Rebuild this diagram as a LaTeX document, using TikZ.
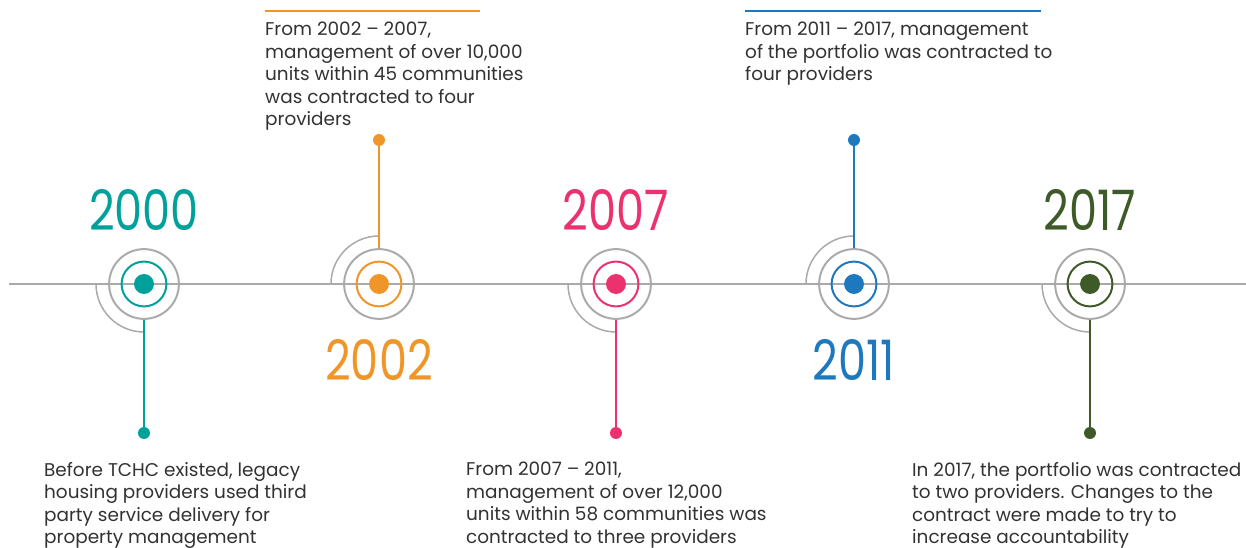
\documentclass[tikz,border=0pt]{standalone}
\usepackage{fontspec}
\setmainfont{Poppins}
\usetikzlibrary{positioning}
\definecolor{cteal}{RGB}{0,160,155}
\definecolor{corange}{RGB}{240,150,40}
\definecolor{cpink}{RGB}{236,50,110}
\definecolor{cblue}{RGB}{30,120,190}
\definecolor{cgreen}{RGB}{62,90,40}
\definecolor{lgray}{RGB}{170,170,170}
\definecolor{ctext}{RGB}{50,50,50}
\newcommand{\yeartext}[1]{\scalebox{0.8}[1]{#1}}
\tikzset{dot/.style = {fill, circle, inner sep = 0, minimum size = 20}}
\tikzset{ring/.style = {draw, circle, line width = 2, inner sep = 0, minimum size = 45}}
\tikzset{halo/.style = {draw = lgray, circle, line width = 2, inner sep = 0, minimum size = 70}}
\tikzset{pin/.style = {fill, circle, inner sep = 0, minimum size = 12}}
\tikzset{stem/.style = {line width = 1.5}}
\tikzset{year/.style = {font = \fontsize{56}{56}\selectfont, inner sep = 0}}
\tikzset{note/.style = {font = \fontsize{18.5}{22.5}\selectfont, text = ctext, align = left, inner sep = 0, anchor = north west}}

\begin{document}
\begin{tikzpicture}[x = 1bp, y = -1bp]
    \useasboundingbox (0, 0) rectangle (1246, 548);
    \draw [lgray, line width = 1.5] (9, 284) -- (1246, 284);

    % 2000
    \node [halo] (o2000) at (144, 284) {};
    \node [ring, draw = cteal] (r2000) at (144, 284) {};
    \node [dot, fill = cteal] (c2000) at (144, 284) {};
    \draw [lgray, line width = 1.5] (96, 284) arc (180:90:48);
    \node [pin, fill = cteal] (e2000) at (144, 433) {};
    \draw [stem, cteal] (o2000) -- (e2000);
    \node [year, text = cteal] (y2000) at (144, 210) {\yeartext{2000}};
    \node [note] (t2000) at (44, 462) {Before TCHC existed, legacy\\housing providers used third\\party service delivery for\\property management};

    % 2002
    \node [halo] (o2002) at (379, 284) {};
    \node [ring, draw = corange] (r2002) at (379, 284) {};
    \node [dot, fill = corange] (c2002) at (379, 284) {};
    \draw [lgray, line width = 1.5] (331, 284) arc (180:270:48);
    \node [pin, fill = corange] (e2002) at (379, 140) {};
    \draw [stem, corange] (o2002) -- (e2002);
    \node [year, text = corange] (y2002) at (379, 360) {\yeartext{2002}};
    \draw [corange, line width = 1.5] (265, 11) -- (480, 11);
    \node [note] (t2002) at (265, 22) {From 2002 -- 2007,\\management of over 10,000\\units within 45 communities\\was contracted to four\\providers};

    % 2007
    \node [halo] (o2007) at (616, 284) {};
    \node [ring, draw = cpink] (r2007) at (616, 284) {};
    \node [dot, fill = cpink] (c2007) at (616, 284) {};
    \draw [lgray, line width = 1.5] (568, 284) arc (180:90:48);
    \node [pin, fill = cpink] (e2007) at (616, 433) {};
    \draw [stem, cpink] (o2007) -- (e2007);
    \node [year, text = cpink] (y2007) at (616, 210) {\yeartext{2007}};
    \node [note] (t2007) at (466, 462) {From 2007 -- 2011,\\management of over 12,000\\units within 58 communities was\\contracted to three providers};

    % 2011
    \node [halo] (o2011) at (854, 284) {};
    \node [ring, draw = cblue] (r2011) at (854, 284) {};
    \node [dot, fill = cblue] (c2011) at (854, 284) {};
    \draw [lgray, line width = 1.5] (806, 284) arc (180:270:48);
    \node [pin, fill = cblue] (e2011) at (854, 140) {};
    \draw [stem, cblue] (o2011) -- (e2011);
    \node [year, text = cblue] (y2011) at (854, 360) {\yeartext{2011}};
    \draw [cblue, line width = 1.5] (745, 11) -- (1041, 11);
    \node [note] (t2011) at (745, 22) {From 2011 -- 2017, management\\of the portfolio was contracted to\\four providers};

    % 2017
    \node [halo] (o2017) at (1090, 284) {};
    \node [ring, draw = cgreen] (r2017) at (1090, 284) {};
    \node [dot, fill = cgreen] (c2017) at (1090, 284) {};
    \draw [lgray, line width = 1.5] (1042, 284) arc (180:90:48);
    \node [pin, fill = cgreen] (e2017) at (1090, 433) {};
    \draw [stem, cgreen] (o2017) -- (e2017);
    \node [year, text = cgreen] (y2017) at (1090, 210) {\yeartext{2017}};
    \node [note] (t2017) at (912, 462) {In 2017, the portfolio was contracted\\to two providers. Changes to the\\contract were made to try to\\increase accountability};
\end{tikzpicture}
\end{document}
